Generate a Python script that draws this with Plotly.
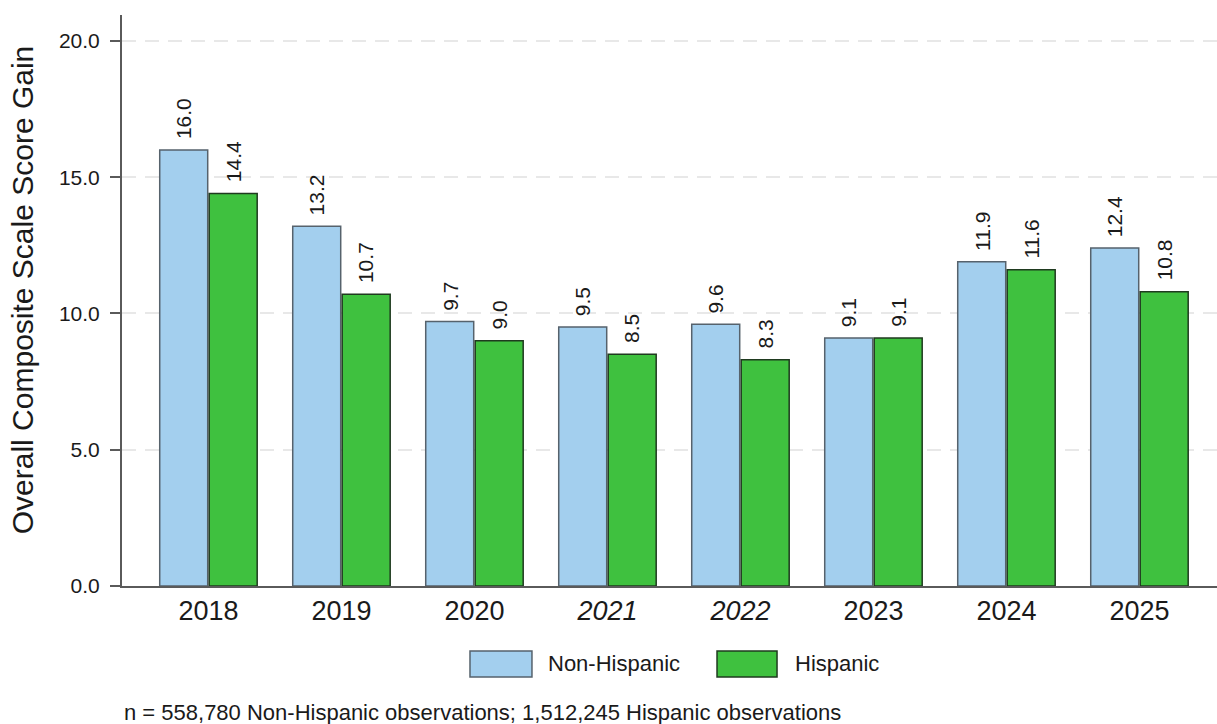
import plotly.graph_objects as go

# Score gain by year, split by ethnicity
years = ["2018", "2019", "2020", "2021", "2022", "2023", "2024", "2025"]
italic_years = ["2021", "2022"]
non_hispanic = [16.0, 13.2, 9.7, 9.5, 9.6, 9.1, 11.9, 12.4]
hispanic = [14.4, 10.7, 9.0, 8.5, 8.3, 9.1, 11.6, 10.8]
series_names = ["Non-Hispanic", "Hispanic"]
y_ticks = [0, 5, 10, 15, 20]
y_title = "Overall Composite Scale Score Gain"
note_text = "n = 558,780 Non-Hispanic observations; 1,512,245 Hispanic observations"

BLUE = "#A3CFEE"
BLUE_EDGE = "#56626c"
GREEN = "#3FC13F"
GREEN_EDGE = "#1f3a1f"
TEXT = "#1a1a1a"
AXIS = "#5a5a5a"
FONT = "Liberation Sans, Arial, sans-serif"

BARGAP = 0.256
BARGROUPGAP = 0.03

fig = go.Figure()
fig.add_trace(go.Bar(
    x=years, y=non_hispanic, name=series_names[0],
    marker=dict(color=BLUE, line=dict(color=BLUE_EDGE, width=1.5)),
    showlegend=False,
))
fig.add_trace(go.Bar(
    x=years, y=hispanic, name=series_names[1],
    marker=dict(color=GREEN, line=dict(color=GREEN_EDGE, width=1.5)),
    showlegend=False,
))

# rotated value labels above each bar
offset = (1 - BARGAP) / 4
annotations = []
for i, (a, b) in enumerate(zip(non_hispanic, hispanic)):
    for val, dx in ((a, -offset), (b, offset)):
        annotations.append(dict(
            x=i + dx, y=val, xref="x", yref="y",
            text=f"{val:.1f}", textangle=-90, showarrow=False,
            xanchor="center", yanchor="bottom", yshift=9,
            font=dict(size=21, color=TEXT, family=FONT),
        ))

# y-axis title, placed as a rotated annotation
annotations.append(dict(
    x=-0.0913, y=0.518, xref="paper", yref="paper",
    text=y_title, textangle=-90, showarrow=False,
    xanchor="center", yanchor="middle",
    font=dict(size=30, color=TEXT, family=FONT),
))

# legend drawn below the plot
legend_items = [
    (series_names[0], BLUE, BLUE_EDGE, 0.3178, 0.3744, 0.387),
    (series_names[1], GREEN, GREEN_EDGE, 0.5434, 0.5982, 0.6128),
]
shapes = []
for name, fill, edge, x0, x1, xt in legend_items:
    shapes.append(dict(
        type="rect", xref="paper", yref="paper",
        x0=x0, x1=x1, y0=-0.1594, y1=-0.1138,
        fillcolor=fill, line=dict(color=edge, width=1.5),
    ))
    annotations.append(dict(
        x=xt, y=-0.1366, xref="paper", yref="paper",
        text=name, showarrow=False, xanchor="left", yanchor="middle",
        font=dict(size=22, color=TEXT, family=FONT),
    ))

annotations.append(dict(
    x=0.0, y=-0.2215, xref="paper", yref="paper",
    text=note_text, showarrow=False, xanchor="left", yanchor="middle",
    font=dict(size=22, color=TEXT, family=FONT),
))

tick_text = [f"<i>{y}</i>" if y in italic_years else y for y in years]

fig.update_layout(
    width=1217, height=724,
    margin=dict(l=122, r=0, t=15, b=138),
    paper_bgcolor="white", plot_bgcolor="white",
    barmode="group", bargap=BARGAP, bargroupgap=BARGROUPGAP,
    font=dict(family=FONT, color=TEXT),
    annotations=annotations, shapes=shapes,
    xaxis=dict(
        type="category", tickvals=years, ticktext=tick_text,
        range=[-0.65, 7.583],
        showline=True, linecolor=AXIS, linewidth=2,
        ticks="", showgrid=False,
        tickfont=dict(size=27, color=TEXT, family=FONT),
    ),
    yaxis=dict(
        range=[0, 20.95], tickvals=y_ticks,
        ticktext=[f"{v:.1f}" for v in y_ticks],
        showline=True, linecolor=AXIS, linewidth=2,
        ticks="outside", ticklen=10, tickwidth=2, tickcolor=AXIS,
        ticklabelstandoff=6,
        showgrid=True, gridcolor="#e8e8e8", gridwidth=2, griddash="14px,9px",
        zeroline=False,
        tickfont=dict(size=21, color=TEXT, family=FONT),
    ),
)

fig.write_html("out.html")
